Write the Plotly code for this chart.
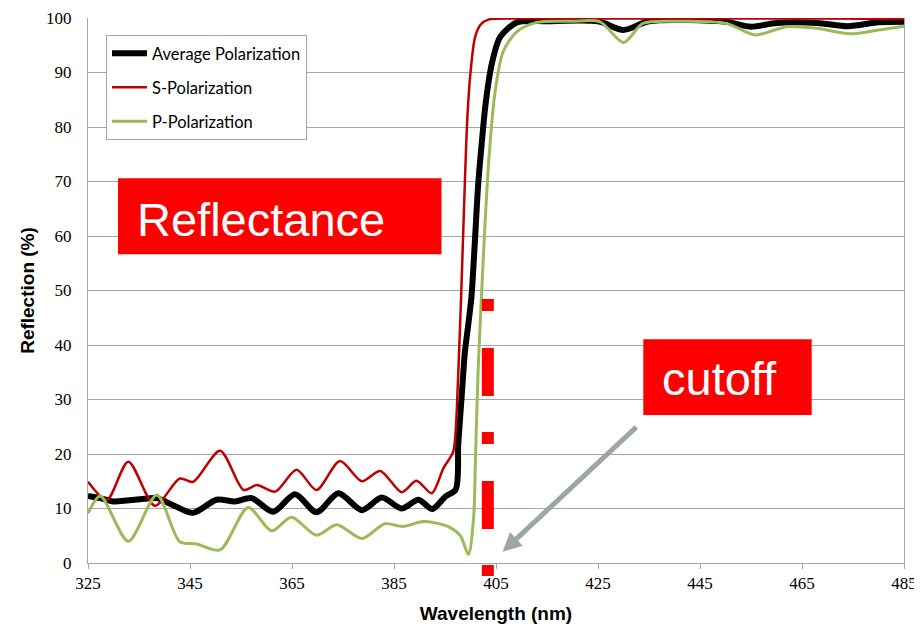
import plotly.graph_objects as go

# ---------------- data ----------------
s_x = [325, 328.7, 332.9, 338.1, 343, 345.6, 350.9, 355.5, 358.1, 361.7, 365.9, 369.8, 374.4,
       378.7, 382.3, 386.5, 389.4, 392.4, 394.7, 396.6, 397.0, 397.4, 398.2, 398.9, 399.4,
       400.0, 400.9, 402.0, 403.5, 410, 430, 450, 470, 485]
s_y = [14.9, 11.6, 18.6, 10.5, 15.5, 14.9, 20.6, 13.4, 14.3, 13.1, 17.1, 13.4, 18.7,
       15.0, 16.9, 13.0, 15.1, 12.8, 17.4, 20.4, 23.0, 30.0, 50.0, 70.0, 82.0,
       90.0, 96.5, 98.8, 99.7, 99.9, 99.9, 99.9, 99.9, 99.8]

avg_x = [325, 327.4, 330, 335.2, 338.5, 341.7, 345.6, 350.2, 353.8, 357.1, 361.3, 365.6, 369.8,
         374.1, 378.7, 382.6, 386.5, 389.8, 392.5, 395.1, 397.1, 397.6, 398.3, 398.9, 399.6,
         400.2, 400.8, 401.5, 402.2, 402.8, 403.5, 404.2, 405.8, 409.1, 415, 425, 430, 435,
         450, 455, 460, 468, 474, 480, 485]
avg_y = [12.3, 11.9, 11.3, 11.7, 11.9, 10.6, 9.2, 11.6, 11.3, 11.9, 9.4, 12.6, 9.3,
         12.8, 9.7, 12.0, 10.0, 11.6, 9.9, 12.2, 13.5, 21.8, 31.0, 38.7, 44.0,
         49.0, 58.0, 69.4, 77.0, 82.9, 88.0, 91.7, 96.5, 99.2, 99.4, 99.4, 97.8, 99.4,
         99.3, 98.4, 99.1, 99.1, 98.5, 99.2, 99.3]

p_x = [325, 327.4, 332.9, 338.5, 343, 346.3, 350.9, 356.4, 361, 364.9, 369.8, 373.8, 378.7,
       383.2, 386.8, 390.7, 395.3, 398, 399.6, 400.6, 401.0, 401.5, 402.5, 403.5, 404.8,
       406.4, 409.1, 413, 420, 425.4, 430, 433.8, 440, 450.2, 455.8, 462, 467.9, 474.4,
       480, 485]
p_y = [9.1, 12.3, 4.0, 12.5, 3.9, 3.5, 2.4, 10.2, 5.9, 8.4, 5.1, 7.0, 4.5,
       7.2, 6.7, 7.6, 6.8, 5.0, 1.6, 8.2, 20.0, 35.4, 55.8, 72.7, 86.3,
       93.8, 97.5, 99.2, 99.4, 99.3, 95.5, 99.0, 99.4, 99.0, 96.9, 98.4, 98.1, 97.1,
       97.8, 98.5]

cutoff_x = 403.4
cutoff_y = [48.44, -2.39]

arrow_tip = (406.3, 2.07)
arrow_tail = (432.8, 25.2)

x_ticks = [325, 345, 365, 385, 405, 425, 445, 465, 485]
y_ticks = [0, 10, 20, 30, 40, 50, 60, 70, 80, 90, 100]
Y_RANGE = [0, 100]

series_names = ["Average Polarization", "S-Polarization", "P-Polarization"]

# ---------------- figure ----------------
GRID = "#A6A6A6"
TICKFONT = dict(family="Liberation Serif", size=17, color="black")
fig = go.Figure()

fig.add_trace(go.Scatter(x=avg_x, y=avg_y, mode="lines", name=series_names[0],
                         line=dict(color="#000000", width=6, shape="spline", smoothing=0.8),
                         legendgroup="a"))
fig.add_trace(go.Scatter(x=s_x, y=s_y, mode="lines", name=series_names[1],
                         line=dict(color="#C00000", width=2.5, shape="spline", smoothing=0.8),
                         legendgroup="s"))
fig.add_trace(go.Scatter(x=p_x, y=p_y, mode="lines", name=series_names[2],
                         line=dict(color="#9BBB59", width=3, shape="spline", smoothing=0.8),
                         legendgroup="p"))

# page body has an 8px margin: the figure is sized/offset to compensate
W, H = 914, 618
ML, MR, MT, MB = 80, 18, 10, 63
PW, PH = W - ML - MR, H - MT - MB   # 816 x 545

fig.update_layout(
    template="none",
    width=W, height=H,
    font=TICKFONT,
    margin=dict(l=ML, r=MR, t=MT, b=MB, autoexpand=False),
    paper_bgcolor="white", plot_bgcolor="white",
    showlegend=True,
    legend=dict(x=(106 - 88) / PW, y=1 - (35 - 18) / PH, xanchor="left", yanchor="top",
                bgcolor="white", bordercolor=GRID, borderwidth=1, itemwidth=35,
                font=dict(family="Lato", size=16.5, color="black"),
                tracegroupgap=9.5, traceorder="grouped"),
    xaxis=dict(range=[325, 485], tickvals=x_ticks, ticks="outside", ticklen=5, tickcolor=GRID,
               showline=True, linecolor=GRID, linewidth=1, showgrid=False, zeroline=False,
               tickfont=TICKFONT,
               title=dict(text="<b>Wavelength (nm)</b>", standoff=14,
                          font=dict(family="Liberation Sans", size=19, color="black"))),
    yaxis=dict(range=Y_RANGE, tickvals=y_ticks, showgrid=True, gridcolor=GRID,
               gridwidth=1, showline=True, linecolor=GRID, mirror=True, zeroline=False,
               ticks="outside", ticklen=12, tickcolor="rgba(0,0,0,0)",
               tickfont=TICKFONT,
               title=dict(text="<b>Reflection (%)</b>", standoff=6,
                          font=dict(family="Liberation Sans", size=19, color="black"))),
)

# cutoff dashed marker (extends a little below the x axis, so it uses the y-domain reference)
fig.add_shape(type="line", xref="x", yref="y domain",
              x0=cutoff_x, x1=cutoff_x,
              y0=(cutoff_y[0] - Y_RANGE[0]) / (Y_RANGE[1] - Y_RANGE[0]),
              y1=(cutoff_y[1] - Y_RANGE[0]) / (Y_RANGE[1] - Y_RANGE[0]),
              line=dict(color="#FF0000", width=12, dash="12px,37px,48px,36px"), layer="above")

# red label boxes (positions in window pixels -> paper)
def px_x(p):
    return (p - 88) / PW

def px_y(p):
    return 1 - (p - 18) / PH

fig.add_shape(type="rect", xref="paper", yref="paper", x0=px_x(118), x1=px_x(441.5),
              y0=px_y(254.3), y1=px_y(178.3), fillcolor="#FF0000", line=dict(width=0), layer="above")
fig.add_shape(type="rect", xref="paper", yref="paper", x0=px_x(643.3), x1=px_x(811.7),
              y0=px_y(415), y1=px_y(339.3), fillcolor="#FF0000", line=dict(width=0), layer="above")

fig.add_annotation(text="Reflectance", xref="paper", yref="paper", x=px_x(135.6), y=px_y(219.4),
                   xanchor="left", yanchor="middle", showarrow=False, borderpad=0,
                   font=dict(family="Liberation Sans", size=47, color="white"))
fig.add_annotation(text="cutoff", xref="paper", yref="paper", x=px_x(661.4), y=px_y(378.7),
                   xanchor="left", yanchor="middle", showarrow=False, borderpad=0,
                   font=dict(family="Liberation Sans", size=47, color="white"))

fig.add_annotation(text="", x=arrow_tip[0], y=arrow_tip[1], ax=arrow_tail[0], ay=arrow_tail[1],
                   xref="x", yref="y", axref="x", ayref="y", showarrow=True,
                   arrowhead=2, arrowsize=0.75, arrowwidth=5, arrowcolor="#9AA8A0", standoff=0)

fig.write_html("out.html")
